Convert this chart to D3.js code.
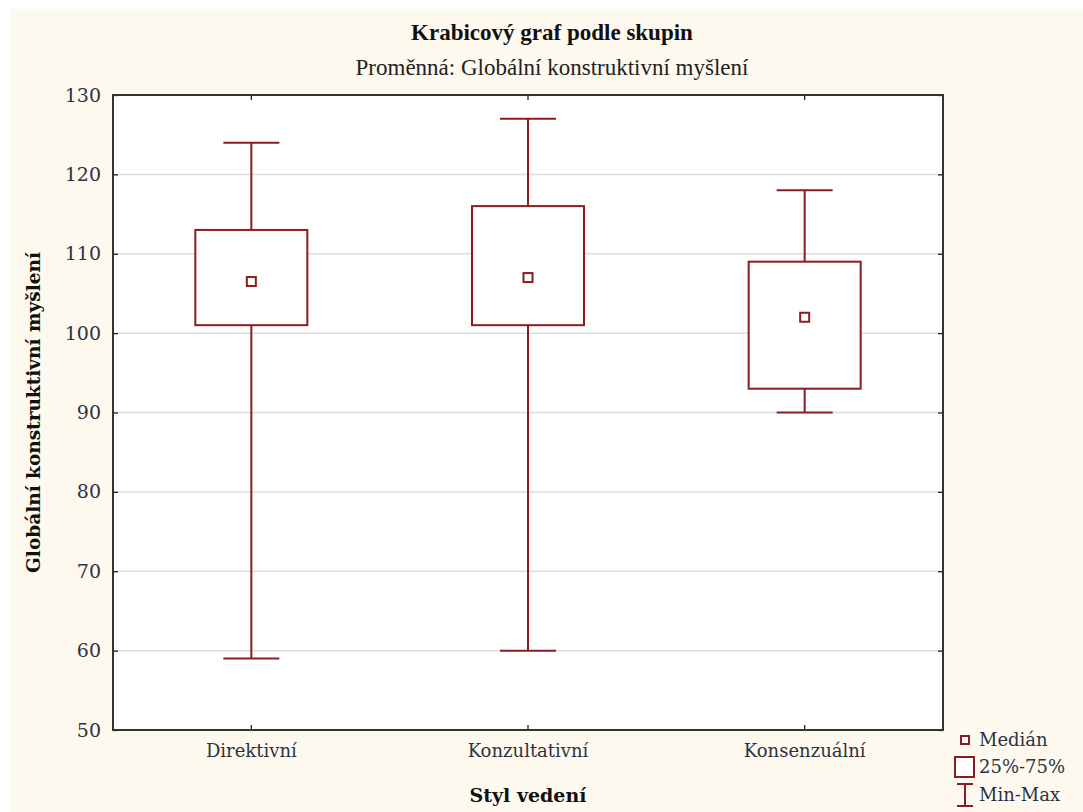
<!DOCTYPE html>
<html>
<head>
<meta charset="utf-8">
<script src="https://cdn.jsdelivr.net/npm/d3@7"></script>
<style>
  body { margin: 0; background: #fff; }
  svg text { font-family: "DejaVu Serif", "Liberation Serif", serif; }
</style>
</head>
<body>
<div id="chart"></div>
<script>
//data
var groups = ['Direktivní', 'Konzultativní', 'Konsenzuální'];
var minValues = [59, 60, 90];
var q1Values = [101, 101, 93];
var medianValues = [106.5, 107, 102];
var q3Values = [113, 116, 109];
var maxValues = [124, 127, 118];
var yTicks = [50, 60, 70, 80, 90, 100, 110, 120, 130];
var legendLabels = ['Medián', '25%-75%', 'Min-Max'];

var boxColor = '#8b1c1f';

//sizes
var outerW = 1083,
    outerH = 812,
    margin = { left: 113, right: 140, top: 95, bottom: 82 },
    w = outerW - margin.left - margin.right,
    h = outerH - margin.top - margin.bottom;

var svg = d3.select('#chart').append('svg')
    .attr('width', outerW)
    .attr('height', outerH);

//cream page
svg.append('rect')
    .attr('x', 10).attr('y', 9)
    .attr('width', outerW - 10).attr('height', outerH - 9)
    .attr('fill', '#fef9ef');

var g = svg.append('g')
    .attr('transform', 'translate(' + margin.left + ',' + margin.top + ')');

//scales
var xScale = d3.scaleBand().domain(groups).range([0, w]);
var yScale = d3.scaleLinear().domain([50, 130]).range([h, 0]);

g.append('rect')
    .attr('width', w).attr('height', h)
    .attr('fill', '#fff');

//grid
g.selectAll('.grid-line')
    .data(yTicks.slice(1, -1))
    .enter()
    .append('line')
    .attr('class', 'grid-line')
    .attr('x1', 0).attr('x2', w)
    .attr('y1', function(d) { return yScale(d); })
    .attr('y2', function(d) { return yScale(d); })
    .attr('stroke', '#dcdcdc')
    .attr('stroke-width', 1.5);

//axes
var yAxisLeft = d3.axisLeft(yScale).tickValues(yTicks).tickSize(-5).tickSizeOuter(0).tickPadding(12);
var yAxisRight = d3.axisRight(yScale).tickValues(yTicks).tickSize(-5).tickSizeOuter(0).tickFormat('');
var xAxisBottom = d3.axisBottom(xScale).tickSize(-5).tickSizeOuter(0).tickPadding(14);
var xAxisTop = d3.axisTop(xScale).tickSize(-5).tickSizeOuter(0).tickFormat('');

g.append('g').attr('class', 'axis y-left').call(yAxisLeft);
g.append('g').attr('class', 'axis').attr('transform', 'translate(' + w + ',0)').call(yAxisRight);
g.append('g').attr('class', 'axis x-bottom').attr('transform', 'translate(0,' + h + ')').call(xAxisBottom);
g.append('g').attr('class', 'axis').call(xAxisTop);

g.selectAll('.axis .domain').remove();
g.selectAll('.axis line').attr('stroke', '#222').attr('stroke-width', 1.3);
g.selectAll('.axis text').attr('fill', '#2b3340');
g.selectAll('.y-left text').style('font-size', '19px');
g.selectAll('.x-bottom text').style('font-size', '18px');

//frame
g.append('rect')
    .attr('width', w).attr('height', h)
    .attr('fill', 'none')
    .attr('stroke', '#333')
    .attr('stroke-width', 2);

//boxes
var boxW = 112,
    capW = 56,
    medS = 9;

var boxG = g.selectAll('.box-g')
    .data(groups)
    .enter()
    .append('g')
    .attr('class', 'box-g')
    .attr('transform', function(d) { return 'translate(' + (xScale(d) + xScale.bandwidth() / 2) + ',0)'; });

boxG.append('line')
    .attr('x1', 0).attr('x2', 0)
    .attr('y1', function(d, i) { return yScale(maxValues[i]); })
    .attr('y2', function(d, i) { return yScale(q3Values[i]); });

boxG.append('line')
    .attr('x1', 0).attr('x2', 0)
    .attr('y1', function(d, i) { return yScale(q1Values[i]); })
    .attr('y2', function(d, i) { return yScale(minValues[i]); });

boxG.append('line')
    .attr('x1', -capW / 2).attr('x2', capW / 2)
    .attr('y1', function(d, i) { return yScale(maxValues[i]); })
    .attr('y2', function(d, i) { return yScale(maxValues[i]); });

boxG.append('line')
    .attr('x1', -capW / 2).attr('x2', capW / 2)
    .attr('y1', function(d, i) { return yScale(minValues[i]); })
    .attr('y2', function(d, i) { return yScale(minValues[i]); });

boxG.append('rect')
    .attr('x', -boxW / 2)
    .attr('width', boxW)
    .attr('y', function(d, i) { return yScale(q3Values[i]); })
    .attr('height', function(d, i) { return yScale(q1Values[i]) - yScale(q3Values[i]); })
    .attr('fill', '#fff');

boxG.append('rect')
    .attr('x', -medS / 2)
    .attr('width', medS)
    .attr('height', medS)
    .attr('y', function(d, i) { return yScale(medianValues[i]) - medS / 2; })
    .attr('fill', '#fff');

boxG.selectAll('line, rect')
    .attr('stroke', boxColor)
    .attr('stroke-width', 2);

//titles
svg.append('text')
    .attr('x', 552).attr('y', 40)
    .attr('text-anchor', 'middle')
    .style('font-family', 'Liberation Serif')
    .style('font-size', '23px')
    .style('font-weight', 'bold')
    .attr('fill', '#111')
    .text('Krabicový graf podle skupin');

svg.append('text')
    .attr('x', 552).attr('y', 75)
    .attr('text-anchor', 'middle')
    .style('font-family', 'Liberation Serif')
    .style('font-size', '23px')
    .attr('fill', '#222')
    .text('Proměnná: Globální konstruktivní myšlení');

svg.append('text')
    .attr('x', margin.left + w / 2).attr('y', 802)
    .attr('text-anchor', 'middle')
    .style('font-size', '19px')
    .style('font-weight', 'bold')
    .attr('fill', '#111')
    .text('Styl vedení');

svg.append('text')
    .attr('transform', 'translate(40,' + (margin.top + h / 2) + ') rotate(-90)')
    .attr('text-anchor', 'middle')
    .style('font-size', '18.5px')
    .style('font-weight', 'bold')
    .attr('fill', '#111')
    .text('Globální konstruktivní myšlení');

//legend
var legend = svg.append('g').attr('transform', 'translate(965,0)');
var legendY = [740, 767, 795];

legend.append('rect')
    .attr('x', -4).attr('y', legendY[0] - 4)
    .attr('width', 8).attr('height', 8);
legend.append('rect')
    .attr('x', -10).attr('y', legendY[1] - 10)
    .attr('width', 19).attr('height', 20);
legend.append('line')
    .attr('x1', 0).attr('x2', 0)
    .attr('y1', legendY[2] - 11).attr('y2', legendY[2] + 11);
legend.append('line')
    .attr('x1', -8).attr('x2', 8)
    .attr('y1', legendY[2] - 11).attr('y2', legendY[2] - 11);
legend.append('line')
    .attr('x1', -8).attr('x2', 8)
    .attr('y1', legendY[2] + 11).attr('y2', legendY[2] + 11);

legend.selectAll('rect, line')
    .attr('fill', '#fff')
    .attr('stroke', boxColor)
    .attr('stroke-width', 2);

legend.selectAll('.legend-text')
    .data(legendLabels)
    .enter()
    .append('text')
    .attr('class', 'legend-text')
    .attr('x', 14)
    .attr('y', function(d, i) { return legendY[i] + 6; })
    .style('font-size', '18px')
    .attr('fill', '#2b3340')
    .text(function(d) { return d; });
</script>
</body>
</html>
